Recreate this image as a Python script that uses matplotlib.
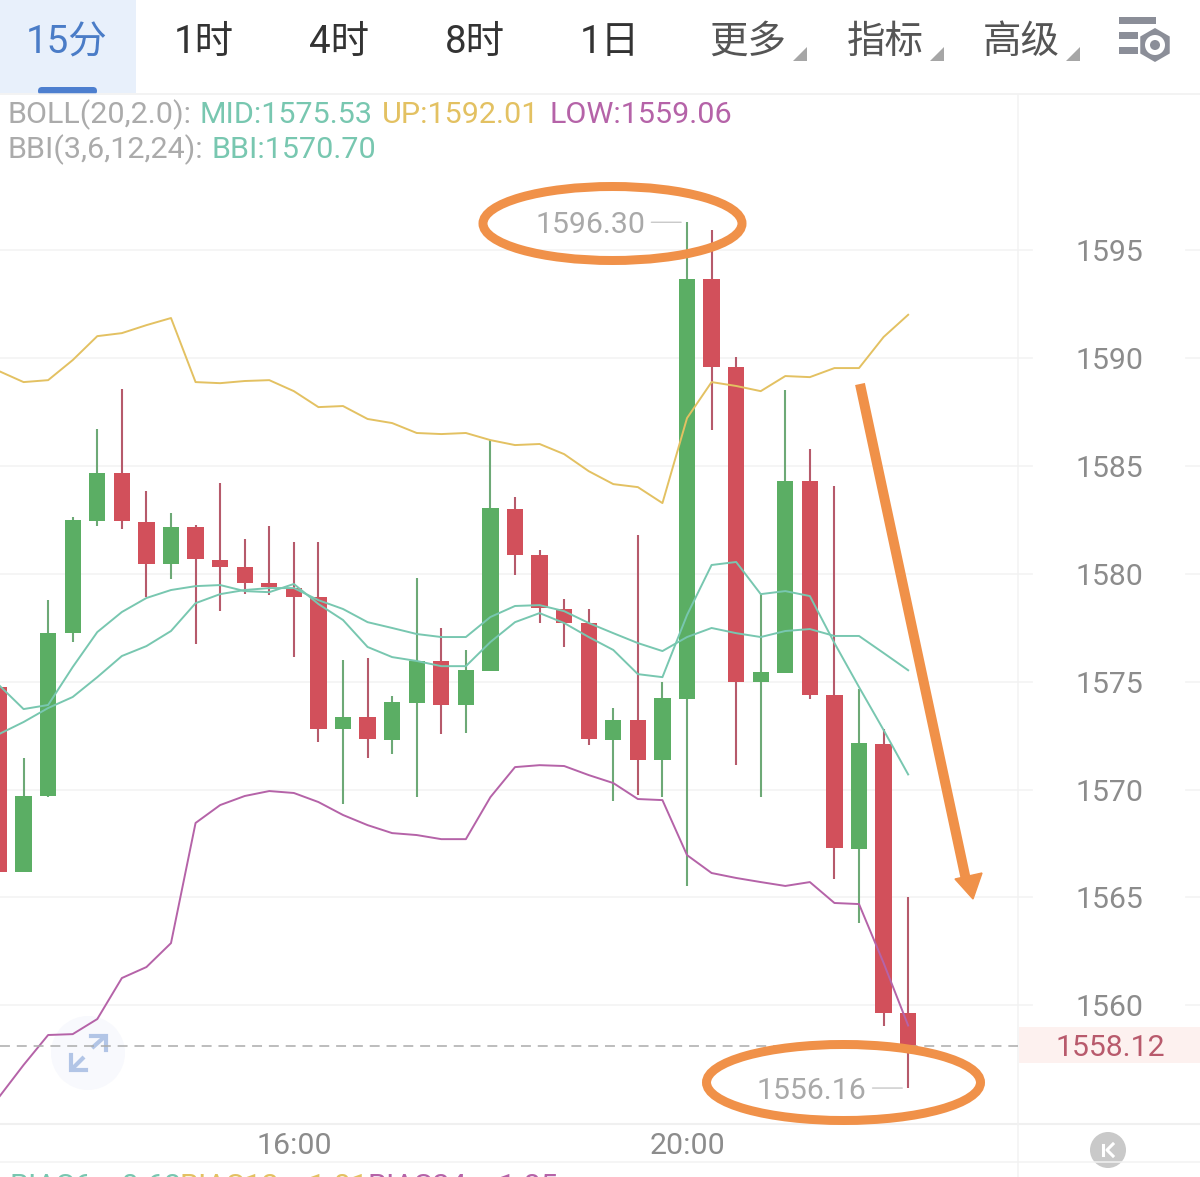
import matplotlib
matplotlib.use("Agg")
import matplotlib.pyplot as plt
from matplotlib import patches
from matplotlib.transforms import blended_transform_factory

plt.rcParams['font.family'] = ['Roboto', 'Noto Sans CJK SC', 'DejaVu Sans']

# 15-minute candles, oldest first
opens = [1574.75, 1566.17, 1569.70, 1577.25, 1582.45, 1584.67, 1582.40, 1580.45, 1582.17, 1580.64,
         1580.31, 1579.57, 1579.34, 1578.92, 1572.80, 1573.36, 1572.29, 1574.01, 1575.96, 1573.92,
         1575.49, 1583.00, 1580.87, 1578.37, 1577.72, 1572.29, 1573.22, 1571.37, 1574.19, 1593.67,
         1589.59, 1574.98, 1575.40, 1584.30, 1574.38, 1567.24, 1572.11, 1559.64]
closes = [1566.17, 1569.70, 1577.25, 1582.49, 1584.67, 1582.45, 1580.45, 1582.17, 1580.68, 1580.31,
          1579.57, 1579.39, 1578.92, 1572.80, 1573.36, 1572.34, 1574.06, 1575.96, 1573.92, 1575.54,
          1583.05, 1580.87, 1578.41, 1577.72, 1572.34, 1573.22, 1571.37, 1574.24, 1593.67, 1589.59,
          1574.98, 1575.45, 1584.30, 1574.38, 1567.29, 1572.15, 1559.64, 1558.12]
highs = [1575.82, 1571.46, 1578.78, 1582.63, 1586.71, 1588.57, 1583.84, 1582.82, 1582.26, 1584.21,
         1581.61, 1582.21, 1581.47, 1581.47, 1576.00, 1576.10, 1574.33, 1579.80, 1577.49, 1576.47,
         1586.20, 1583.56, 1581.10, 1578.83, 1578.37, 1573.78, 1581.80, 1574.98, 1596.30, 1595.94,
         1590.05, 1579.06, 1588.52, 1585.78, 1584.07, 1574.66, 1572.80, 1565.01]
lows = [1561.40, 1566.17, 1569.65, 1576.84, 1582.21, 1582.08, 1578.92, 1579.76, 1576.74, 1578.27,
        1579.06, 1579.02, 1576.14, 1572.20, 1569.33, 1571.46, 1571.64, 1569.65, 1572.57, 1572.62,
        1575.49, 1579.94, 1577.72, 1576.61, 1572.06, 1569.47, 1569.74, 1569.65, 1565.53, 1586.67,
        1571.13, 1569.65, 1575.40, 1574.19, 1565.85, 1563.81, 1559.03, 1556.16]

# Bollinger bands and bull/bear index
boll_up = [1589.40, 1588.89, 1588.98, 1589.91, 1591.02, 1591.16, 1591.53, 1591.86, 1588.89, 1588.84,
           1588.94, 1588.98, 1588.47, 1587.73, 1587.78, 1587.18, 1586.99, 1586.53, 1586.48, 1586.53,
           1586.20, 1585.97, 1586.02, 1585.55, 1584.76, 1584.16, 1584.02, 1583.28, 1587.22, 1588.89,
           1588.71, 1588.47, 1589.17, 1589.12, 1589.54, 1589.54, 1590.98, 1592.01]
boll_low = [1555.74, 1557.23, 1558.62, 1558.66, 1559.36, 1561.26, 1561.77, 1562.88, 1568.45, 1569.28,
            1569.70, 1569.93, 1569.84, 1569.42, 1568.82, 1568.35, 1567.98, 1567.89, 1567.70, 1567.70,
            1569.65, 1571.04, 1571.13, 1571.09, 1570.67, 1570.30, 1569.56, 1569.51, 1566.96, 1566.13,
            1565.90, 1565.71, 1565.53, 1565.71, 1564.74, 1564.69, 1561.96, 1559.06]
boll_mid = [1572.57, 1573.13, 1573.78, 1574.29, 1575.21, 1576.19, 1576.65, 1577.35, 1578.64, 1579.06,
            1579.25, 1579.34, 1579.34, 1578.78, 1578.37, 1577.76, 1577.49, 1577.21, 1577.07, 1577.07,
            1578.00, 1578.51, 1578.55, 1578.27, 1577.72, 1577.25, 1576.79, 1576.42, 1577.07, 1577.49,
            1577.25, 1577.07, 1577.35, 1577.44, 1577.12, 1577.12, 1576.33, 1575.53]
bbi = [1574.84, 1573.73, 1573.92, 1575.68, 1577.30, 1578.23, 1578.88, 1579.25, 1579.43, 1579.48,
       1579.20, 1579.15, 1579.53, 1578.60, 1577.86, 1576.61, 1576.14, 1575.96, 1575.72, 1575.72,
       1576.84, 1577.76, 1578.18, 1577.72, 1577.07, 1576.47, 1575.35, 1575.21, 1578.09, 1580.41,
       1580.55, 1579.06, 1579.20, 1578.97, 1576.79, 1574.75, 1572.76, 1570.70]

price_ticks = [1560, 1565, 1570, 1575, 1580, 1585, 1590, 1595]
time_tick_pos = [12, 28]
time_tick_labels = ['16:00', '20:00']
last_price = 1558.12
period_labels = ['15分', '1时', '4时', '8时', '1日']
menu_labels = ['更多', '指标', '高级']

GREEN, RED = '#5bae64', '#d2505b'
GREEN_WICK, RED_WICK = '#6da976', '#b65a6b'
TEAL, YELLOW, PURPLE = '#78c7b0', '#e3c162', '#b563a8'
GREY = '#8c8c8c'
RULE = '#f3f3f3'
ORANGE = '#f09149'

W, H = 1200, 1177
fig = plt.figure(figsize=(W / 100, H / 100), dpi=100, facecolor='white')


def pt(px):
    return px * 0.72


# Overlay in pixel coordinates for the app chrome and hand-drawn markup
ui = fig.add_axes([0, 0, 1, 1], zorder=1)
ui.set_xlim(0, W)
ui.set_ylim(H, 0)
ui.axis('off')

# Price panel
ax = fig.add_axes([0, 1 - 1123 / H, 1018 / W, (1123 - 95) / H], zorder=2)
ax.patch.set_alpha(0)
ax.set_xlim(0.041, 41.47)
ax.set_ylim(1554.54, 1602.20)
for s in ax.spines.values():
    s.set_visible(False)

ax.grid(axis='y', color=RULE, lw=1.2, zorder=0)
ax.set_axisbelow(True)
ax.set_yticks(price_ticks)
ax.set_xticks(time_tick_pos, time_tick_labels)
ax.yaxis.tick_right()
ax.tick_params(axis='y', length=0, pad=pt(57), labelsize=pt(30.3), labelcolor=GREY)
ax.tick_params(axis='x', length=0, pad=pt(9), labelsize=pt(30.3), labelcolor=GREY)

# Outer stubs of the price grid beside the axis labels
stub = blended_transform_factory(ui.transData, ax.transData)
for p in price_ticks:
    ui.plot([1018, 1032], [p, p], color=RULE, lw=1.2, transform=stub, zorder=1)
    ui.plot([1186, 1200], [p, p], color=RULE, lw=1.2, transform=stub, zorder=1)

xs = range(len(opens))
for i in xs:
    up = closes[i] >= opens[i]
    ax.vlines(i, lows[i], highs[i], color=GREEN_WICK if up else RED_WICK, lw=1.5, zorder=2)
    ax.bar(i, abs(closes[i] - opens[i]), bottom=min(opens[i], closes[i]), width=0.66,
           color=GREEN if up else RED, linewidth=0, zorder=3)

ax.plot(xs, boll_up, color=YELLOW, lw=1.4, zorder=4, solid_joinstyle='round')
ax.plot(xs, boll_low, color=PURPLE, lw=1.4, zorder=4, solid_joinstyle='round')
ax.plot(xs, boll_mid, color=TEAL, lw=1.4, zorder=4, solid_joinstyle='round')
ax.plot(xs, bbi, color=TEAL, lw=1.4, zorder=4, solid_joinstyle='round')

ax.axhline(last_price, color='#ababab', lw=1.1, dashes=(6.5, 4.5), zorder=5)

# Session extremes with their leader lines
hi_i = highs.index(max(highs))
lo_i = lows.index(min(lows))
for i, value in [(hi_i, highs[hi_i]), (lo_i, lows[lo_i])]:
    ax.annotate('', xy=(i - 0.24, value), xytext=(i - 1.45, value),
                arrowprops=dict(arrowstyle='-', color='#c8c8c8', lw=1.0, shrinkA=0, shrinkB=0),
                zorder=6)
    ax.annotate(f'{value:.2f}', xy=(i - 1.7, value), xytext=(0, -2), textcoords='offset points',
                ha='right', va='center', fontsize=pt(30.3), color='#a9a9a9', zorder=6)

# Period tabs and menus
ui.add_patch(patches.Rectangle((0, 0), 136, 93, fc='#e8f0fb', ec='none'))
ui.add_patch(patches.FancyBboxPatch((38, 87), 59, 8, boxstyle='round,pad=0,rounding_size=4',
                                    fc='#4d7fcf', ec='none', mutation_aspect=1))
ui.add_patch(patches.Rectangle((0, 93.5), W, 2, fc='white', ec='none', zorder=1.5))
period_x = [67, 204, 339, 475, 610]
for x, label in zip(period_x, period_labels):
    ui.text(x, 42.5, label, ha='center', va='center', fontsize=pt(38.5),
            color='#4a7cc7' if label == '15分' else '#333333')
menu_x = [748, 885, 1021]
for x, label in zip(menu_x, menu_labels):
    ui.text(x, 42, label, ha='center', va='center', fontsize=pt(38.5), color='#555555')
    ui.add_patch(patches.Polygon([[x + 45, 60.5], [x + 59, 60.5], [x + 59, 47]], fc='#a6a6a6', ec='none'))

# Settings icon
icon = '#8b8e98'
ui.add_patch(patches.Rectangle((1119, 17), 37, 7, fc=icon, ec='none'))
ui.add_patch(patches.Rectangle((1119, 32), 19, 7, fc=icon, ec='none'))
ui.add_patch(patches.Rectangle((1119, 47), 19, 7, fc=icon, ec='none'))
ui.add_patch(patches.RegularPolygon((1155, 45), 6, radius=19, fc='white', ec='none'))
ui.add_patch(patches.RegularPolygon((1155, 45), 6, radius=17, fc=icon, ec='none'))
ui.add_patch(patches.Ellipse((1155, 45), 20, 20, fc='white', ec='none'))
ui.add_patch(patches.Ellipse((1155, 45), 10, 10, fc=icon, ec='none'))

# Panel rules
ui.plot([0, W], [94, 94], color='#f0f0f0', lw=1.1)
ui.plot([0, W], [1123.5, 1123.5], color='#f0f0f0', lw=1.5)
ui.plot([0, W], [1162, 1162], color='#f2f2f2', lw=1.1)
ui.plot([1018, 1018], [95, H], color='#f2f2f2', lw=1.1)

# Indicator read-outs
legend_rows = [
    (115, [(8, 'BOLL(20,2.0):', '#ababab'), (200, 'MID:1575.53', TEAL),
           (382, 'UP:1592.01', YELLOW), (549, 'LOW:1559.06', PURPLE)]),
    (150, [(8, 'BBI(3,6,12,24):', '#ababab'), (212, 'BBI:1570.70', TEAL)]),
    (1187, [(9, 'BIAS6:', TEAL), (113, '-0.68', TEAL), (180, 'BIAS12:', YELLOW),
            (300, '-1.01', YELLOW), (368, 'BIAS24:', PURPLE), (490, '-1.85', PURPLE)]),
]
for y, items in legend_rows:
    for x, text, colour in items:
        ui.text(x, y, text, ha='left', va='center', fontsize=pt(30.5), color=colour, clip_on=False)

# Last-price tag
ui.add_patch(patches.Rectangle((1018.5, 1027), W - 1018, 36, fc='#fdf1ef', ec='none'))
ui.text(1110, 1048, f'{last_price:.2f}', ha='center', va='center', fontsize=pt(30.3), color='#b85a6c')

# Chart-expand button
ui.add_patch(patches.Ellipse((88, 1053), 74, 74, fc='#f8f9fd', ec='none', zorder=0.5))
arrow = '#b2c5e6'
ui.plot([92, 106], [1048, 1035.5], color=arrow, lw=3, solid_capstyle='butt')
ui.plot([91, 106, 106], [1035.5, 1035.5, 1050], color=arrow, lw=3, solid_joinstyle='miter')
ui.plot([84, 71], [1057, 1070], color=arrow, lw=3, solid_capstyle='butt')
ui.plot([71, 71, 86], [1055, 1070, 1070], color=arrow, lw=3, solid_joinstyle='miter')

# Jump-to-latest button
ui.add_patch(patches.Ellipse((1108, 1150), 36, 36, fc='#c9c9c9', ec='none'))
ui.plot([1103, 1103], [1145, 1155], color='white', lw=2.2)
ui.plot([1113, 1107, 1113], [1144, 1150, 1156], color='white', lw=2.2)

# Hand-drawn markup above the chart
markup = fig.add_axes([0, 0, 1, 1], zorder=3)
markup.set_xlim(0, W)
markup.set_ylim(H, 0)
markup.axis('off')
markup.add_patch(patches.Ellipse((612.5, 223.5), 259, 74, fc='none', ec=ORANGE, lw=pt(9)))
markup.add_patch(patches.Ellipse((843.5, 1082.5), 274, 76, fc='none', ec=ORANGE, lw=pt(9)))
markup.plot([860, 966], [384, 880], color=ORANGE, lw=pt(10), solid_capstyle='butt')
markup.add_patch(patches.Polygon([[955, 879], [982, 873], [973, 899]], fc=ORANGE, ec=ORANGE, lw=1))

fig.savefig('out.png', dpi=100)
